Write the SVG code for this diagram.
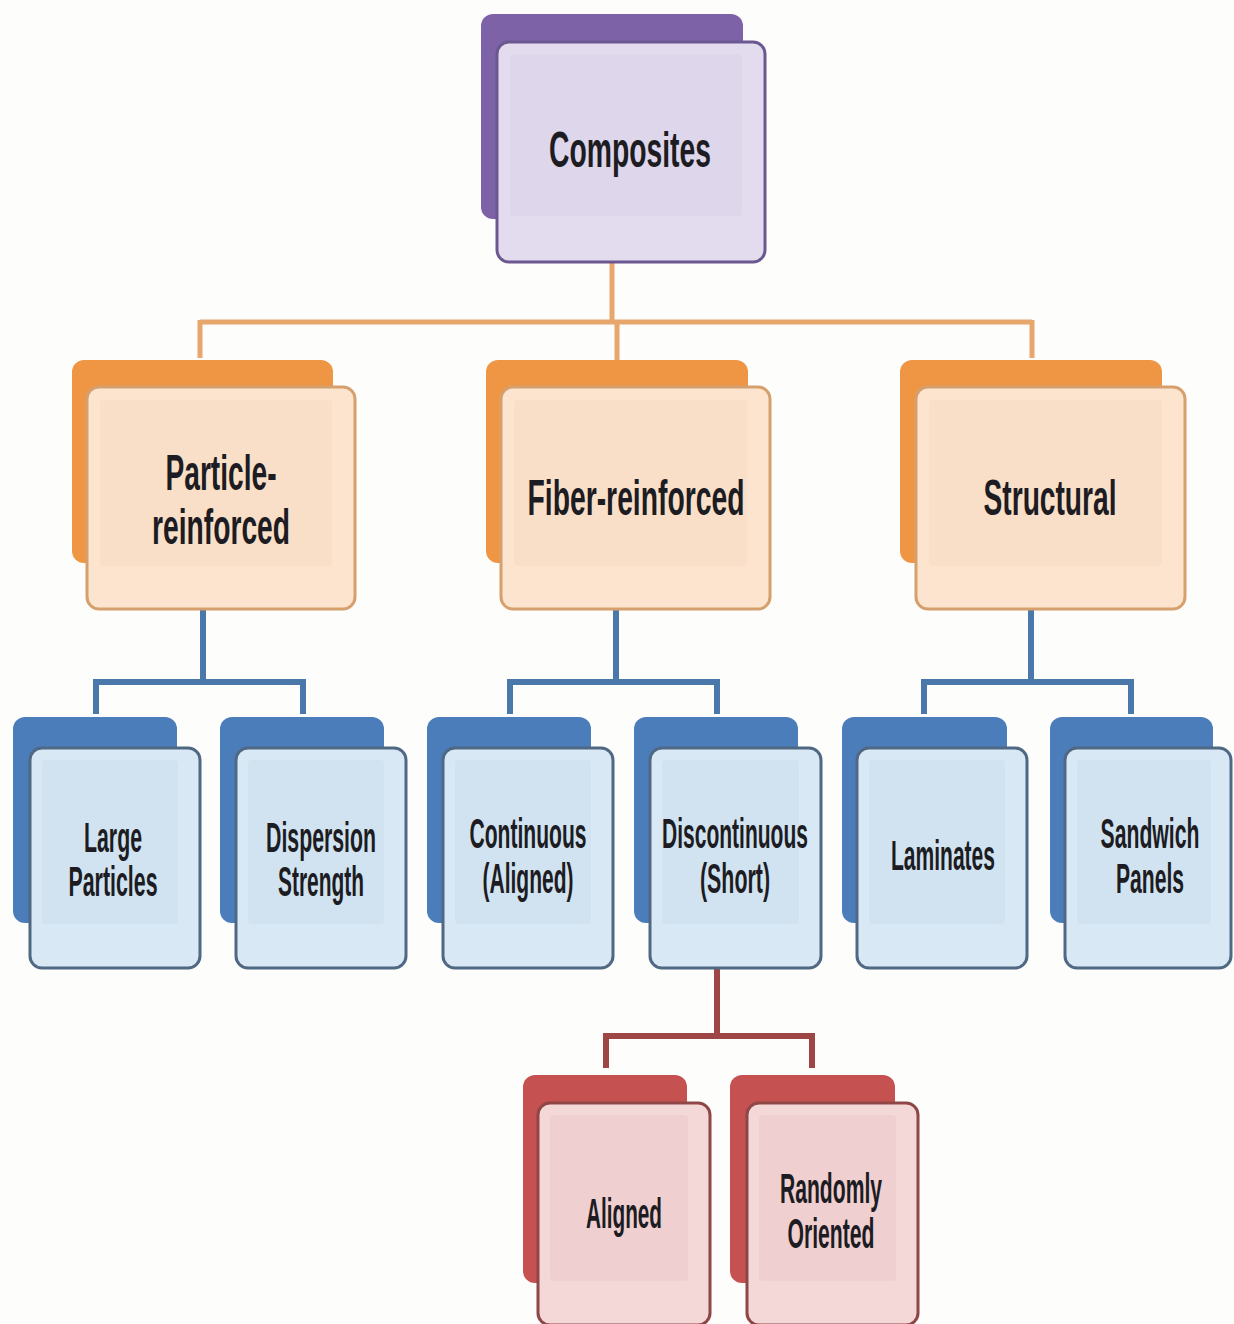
<svg xmlns="http://www.w3.org/2000/svg" width="1234" height="1324" viewBox="0 0 1234 1324">
<style>
  text { font-family: "Liberation Sans", "DejaVu Sans", sans-serif; font-weight: bold; fill: #1c1c22; text-anchor: middle; }
  .big { font-size: 28px; }
  .mid { font-size: 21px; }
  .pb { fill: #7d62a8; }
  .pf { fill: #e3dbee; stroke: #6c5890; stroke-width: 3; }
  .pi { fill: #ded6eb; }
  .ob { fill: #ef9645; }
  .of { fill: #fce4cf; stroke: #d6a06e; stroke-width: 3; }
  .oi { fill: #fadfc8; }
  .bb { fill: #4b7dba; }
  .bf { fill: #d8e8f4; stroke: #4f6884; stroke-width: 3; }
  .bi { fill: #d1e3f0; }
  .rb { fill: #c55150; }
  .rf { fill: #f4d8d8; stroke: #8e4646; stroke-width: 3; }
  .ri { fill: #efcfd0; }
  .co { stroke: #e6a66c; stroke-width: 5; fill: none; }
  .cb { stroke: #4a78aa; stroke-width: 6; fill: none; }
  .cr { stroke: #9e4646; stroke-width: 6; fill: none; }
</style>
<rect width="1234" height="1324" fill="#fdfdfb"/>
<g id="connectors">
  <path class="co" d="M612 262 V322 M200 322 H1032 M200 320 V358 M617 320 V360 M1032 320 V358"/>
  <path class="cb" d="M203 608 V682 M96 682 H303 M96 679 V714 M303 679 V714"/>
  <path class="cb" d="M616 608 V682 M510 682 H717 M510 679 V714 M717 679 V714"/>
  <path class="cb" d="M1031 608 V682 M924 682 H1131 M924 679 V714 M1131 679 V714"/>
  <path class="cr" d="M717 968 V1036 M606 1036 H812 M606 1033 V1068 M812 1033 V1068"/>
</g>
<g id="composites">
  <rect class="pb" x="481" y="14" width="262" height="205" rx="12"/>
  <rect class="pf" x="497" y="42" width="268" height="220" rx="12"/>
  <rect class="pi" x="510" y="54" width="232" height="162" rx="4"/>
  <text class="big" transform="translate(630 167) scale(1 1.8)" textLength="162" lengthAdjust="spacingAndGlyphs">Composites</text>
</g>
<g id="particle-reinforced">
  <rect class="ob" x="72" y="360" width="261" height="203" rx="12"/>
  <rect class="of" x="87" y="387" width="268" height="222" rx="12"/>
  <rect class="oi" x="100" y="400" width="232" height="166" rx="4"/>
  <text class="big" transform="translate(221 490) scale(1 1.8)" textLength="111" lengthAdjust="spacingAndGlyphs">Particle-</text>
  <text class="big" transform="translate(221 544) scale(1 1.8)" textLength="138" lengthAdjust="spacingAndGlyphs">reinforced</text>
</g>
<g id="fiber-reinforced">
  <rect class="ob" x="486" y="360" width="262" height="203" rx="12"/>
  <rect class="of" x="501" y="387" width="269" height="222" rx="12"/>
  <rect class="oi" x="514" y="400" width="233" height="166" rx="4"/>
  <text class="big" transform="translate(636 515) scale(1 1.8)" textLength="217" lengthAdjust="spacingAndGlyphs">Fiber-reinforced</text>
</g>
<g id="structural">
  <rect class="ob" x="900" y="360" width="262" height="203" rx="12"/>
  <rect class="of" x="916" y="387" width="269" height="222" rx="12"/>
  <rect class="oi" x="929" y="400" width="233" height="166" rx="4"/>
  <text class="big" transform="translate(1050 515) scale(1 1.8)" textLength="133" lengthAdjust="spacingAndGlyphs">Structural</text>
</g>
<g id="large-particles">
  <rect class="bb" x="13" y="717" width="164" height="206" rx="12"/>
  <rect class="bf" x="30" y="748" width="170" height="220" rx="12"/>
  <rect class="bi" x="42" y="760" width="136" height="164" rx="4"/>
  <text class="mid" transform="translate(113 852) scale(1 2)" textLength="58" lengthAdjust="spacingAndGlyphs">Large</text>
  <text class="mid" transform="translate(113 896) scale(1 2)" textLength="89" lengthAdjust="spacingAndGlyphs">Particles</text>
</g>
<g id="dispersion-strength">
  <rect class="bb" x="220" y="717" width="164" height="206" rx="12"/>
  <rect class="bf" x="236" y="748" width="170" height="220" rx="12"/>
  <rect class="bi" x="248" y="760" width="136" height="164" rx="4"/>
  <text class="mid" transform="translate(321 852) scale(1 2)" textLength="110" lengthAdjust="spacingAndGlyphs">Dispersion</text>
  <text class="mid" transform="translate(321 896) scale(1 2)" textLength="86" lengthAdjust="spacingAndGlyphs">Strength</text>
</g>
<g id="continuous">
  <rect class="bb" x="427" y="717" width="164" height="206" rx="12"/>
  <rect class="bf" x="443" y="748" width="170" height="220" rx="12"/>
  <rect class="bi" x="455" y="760" width="136" height="164" rx="4"/>
  <text class="mid" transform="translate(528 848) scale(1 2)" textLength="117" lengthAdjust="spacingAndGlyphs">Continuous</text>
  <text class="mid" transform="translate(528 893) scale(1 2)" textLength="91" lengthAdjust="spacingAndGlyphs">(Aligned)</text>
</g>
<g id="discontinuous">
  <rect class="bb" x="634" y="717" width="164" height="206" rx="12"/>
  <rect class="bf" x="650" y="748" width="171" height="220" rx="12"/>
  <rect class="bi" x="662" y="760" width="137" height="164" rx="4"/>
  <text class="mid" transform="translate(735 848) scale(1 2)" textLength="146" lengthAdjust="spacingAndGlyphs">Discontinuous</text>
  <text class="mid" transform="translate(735 893) scale(1 2)" textLength="70" lengthAdjust="spacingAndGlyphs">(Short)</text>
</g>
<g id="laminates">
  <rect class="bb" x="842" y="717" width="165" height="206" rx="12"/>
  <rect class="bf" x="857" y="748" width="170" height="220" rx="12"/>
  <rect class="bi" x="869" y="760" width="136" height="164" rx="4"/>
  <text class="mid" transform="translate(943 870) scale(1 2)" textLength="104" lengthAdjust="spacingAndGlyphs">Laminates</text>
</g>
<g id="sandwich-panels">
  <rect class="bb" x="1050" y="717" width="163" height="206" rx="12"/>
  <rect class="bf" x="1065" y="748" width="166" height="220" rx="12"/>
  <rect class="bi" x="1077" y="760" width="134" height="164" rx="4"/>
  <text class="mid" transform="translate(1150 848) scale(1 2)" textLength="99" lengthAdjust="spacingAndGlyphs">Sandwich</text>
  <text class="mid" transform="translate(1150 893) scale(1 2)" textLength="68" lengthAdjust="spacingAndGlyphs">Panels</text>
</g>
<g id="aligned">
  <rect class="rb" x="523" y="1075" width="164" height="208" rx="12"/>
  <rect class="rf" x="538" y="1103" width="172" height="222" rx="12"/>
  <rect class="ri" x="550" y="1115" width="138" height="166" rx="4"/>
  <text class="mid" transform="translate(624 1228) scale(1 2)" textLength="76" lengthAdjust="spacingAndGlyphs">Aligned</text>
</g>
<g id="randomly-oriented">
  <rect class="rb" x="730" y="1075" width="165" height="208" rx="12"/>
  <rect class="rf" x="747" y="1103" width="171" height="222" rx="12"/>
  <rect class="ri" x="759" y="1115" width="137" height="166" rx="4"/>
  <text class="mid" transform="translate(831 1203) scale(1 2)" textLength="102" lengthAdjust="spacingAndGlyphs">Randomly</text>
  <text class="mid" transform="translate(831 1248) scale(1 2)" textLength="87" lengthAdjust="spacingAndGlyphs">Oriented</text>
</g>
</svg>
